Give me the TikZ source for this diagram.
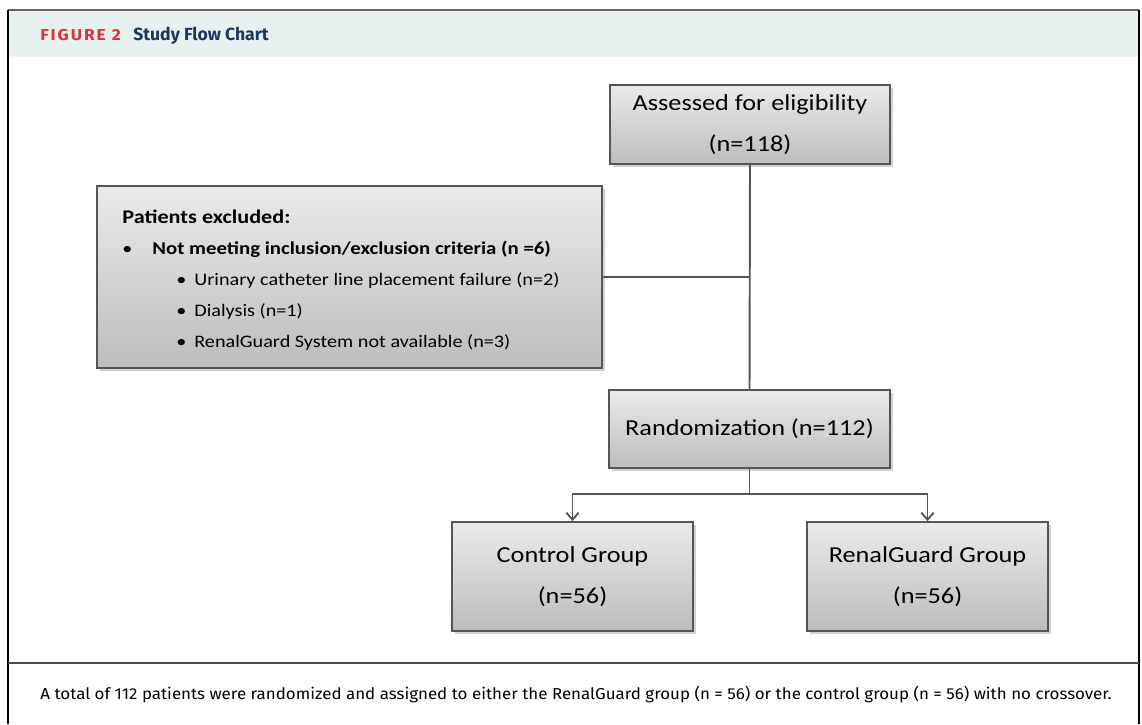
\documentclass[tikz,border=0pt]{standalone}
\usepackage{fontspec}
\setmainfont{Carlito}[FakeStretch=1.15]
\newfontfamily\figfont{Fira Sans}[FakeStretch=1.1,LetterSpace=12]
\newfontfamily\titlefont{Fira Sans}
\newfontfamily\capfont{Fira Sans}[FakeStretch=1.07]
\usetikzlibrary{shadows,arrows.meta}
\definecolor{figred}{HTML}{E0313B}
\definecolor{fignavy}{HTML}{1B365F}
\definecolor{headbg}{HTML}{E8F0F0}
\definecolor{linegray}{HTML}{555555}
\begin{document}
\begin{tikzpicture}[x=0.02cm,y=-0.02cm,
    flowbox/.style={draw=linegray, line width=1pt, top color=black!8, bottom color=black!26,
      drop shadow={shadow xshift=1.5pt, shadow yshift=-1.5pt, opacity=0.35},
      align=center, inner sep=0pt, font=\fontsize{13}{23}\selectfont},
    link/.style={draw=linegray, line width=1.1pt},
    item/.style={anchor=base west, inner sep=0pt, font=\fontsize{10}{12}\selectfont}]
  \useasboundingbox (0,0) rectangle (1142,724);
  % frame and header
  \fill[headbg] (8,10) rectangle (1139,57);
  \draw[black!60, line width=1pt] (8,10) -- (1139,10);
  \draw[black, line width=1.2pt] (8,10) -- (8,724);
  \draw[black, line width=1.2pt] (1139,10) -- (1139,724);
  \draw[black!70, line width=1pt] (8,663) -- (1139,663);
  \node[anchor=base west, inner sep=0pt, text=figred, font=\figfont\bfseries\fontsize{9}{11}\selectfont] (figno) at (40,40) {FIGURE 2};
  \node[anchor=base west, inner sep=0pt, text=fignavy, font=\titlefont\bfseries\fontsize{10}{12}\selectfont] (title) at (133,40) {Study Flow Chart};
  % boxes
  \node[flowbox, minimum width=5.6cm, minimum height=1.58cm] (assess) at (750,124.5) {Assessed for eligibility\\(n=118)};
  \node[flowbox, minimum width=10.1cm, minimum height=3.64cm] (excl) at (349.5,277) {};
  \node[flowbox, minimum width=5.62cm, minimum height=1.56cm] (rand) at (749.5,429) {Randomization (n=112)};
  \node[flowbox, minimum width=4.82cm, minimum height=2.18cm] (ctrl) at (572.5,576.5) {Control Group\\(n=56)};
  \node[flowbox, minimum width=4.82cm, minimum height=2.18cm] (renal) at (927.5,576.5) {RenalGuard Group\\(n=56)};
  % exclusion list
  \node[item, font=\bfseries\fontsize{11}{13}\selectfont] (exhead) at (122,223) {Patients excluded:};
  \node[item] (b0) at (122,254) {\textbullet};
  \node[item, font=\bfseries\fontsize{10.3}{12}\selectfont] (excrit) at (152,254) {Not meeting inclusion/exclusion criteria (n =6)};
  \foreach \y/\t [count=\i] in {285/Urinary catheter line placement failure (n=2), 316/Dialysis (n=1), 347/RenalGuard System not available (n=3)} {
    \node[item] (b\i) at (176,\y) {\textbullet};
    \node[item] (ex\i) at (194,\y) {\t};
  }
  % connectors
  \draw[link] (assess.south) -- (rand.north);
  \draw[link] (excl.east) -- (excl.east -| assess.south);
  \draw[link] (rand.south) -- ++(0,25) coordinate (split);
  \draw[link, -{Straight Barb[length=4pt,width=7pt]}] (split) -| (ctrl.north);
  \draw[link, -{Straight Barb[length=4pt,width=7pt]}] (split) -| (renal.north);
  % caption
  \node[anchor=base west, inner sep=0pt, font=\capfont\fontsize{9}{11}\selectfont] (caption) at (40,699) {A total of 112 patients were randomized and assigned to either the RenalGuard group (n = 56) or the control group (n = 56) with no crossover.};
\end{tikzpicture}
\end{document}
